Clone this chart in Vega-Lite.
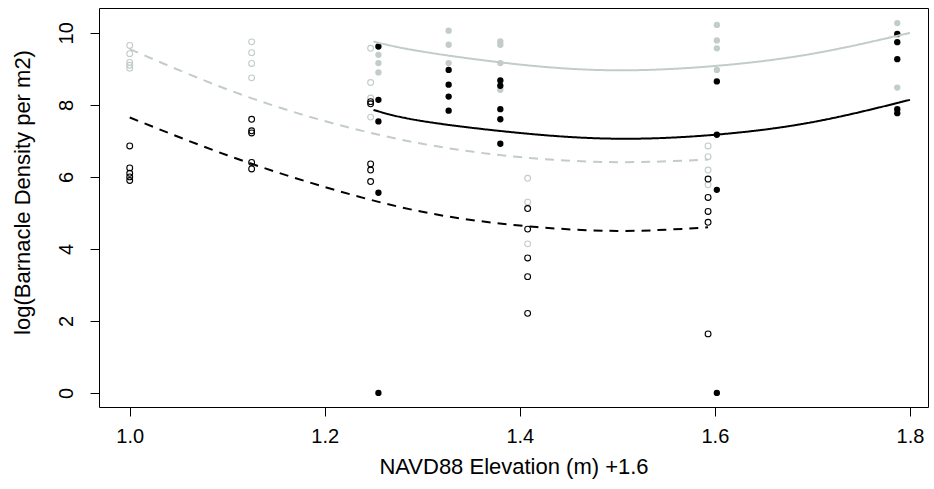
{
  "$schema": "https://vega.github.io/schema/vega-lite/v6.json",
  "width": 829,
  "height": 399,
  "autosize": {"type": "none"},
  "padding": {"left": 99, "top": 8, "right": 6, "bottom": 82},
  "background": "white",
  "config": {
    "view": {"stroke": "black", "strokeWidth": 1},
    "font": "Liberation Sans",
    "axis": {"grid": false, "domain": false, "tickColor": "black", "tickSize": 9, "labelColor": "black", "titleColor": "black", "labelFont": "Liberation Sans", "titleFont": "Liberation Sans", "labelFontSize": 20, "titleFontSize": 22, "titleFontWeight": "normal"}
  },
  "datasets": {
    "open": [
      {"x": 1.0, "y": 9.65, "g": "lightOpen"}, {"x": 1.0, "y": 9.42, "g": "lightOpen"}, {"x": 1.0, "y": 9.18, "g": "lightOpen"}, {"x": 1.0, "y": 9.1, "g": "lightOpen"}, {"x": 1.0, "y": 9.02, "g": "lightOpen"},
      {"x": 1.125, "y": 9.75, "g": "lightOpen"}, {"x": 1.125, "y": 9.45, "g": "lightOpen"}, {"x": 1.125, "y": 9.15, "g": "lightOpen"}, {"x": 1.125, "y": 8.75, "g": "lightOpen"},
      {"x": 1.247, "y": 9.57, "g": "lightOpen"}, {"x": 1.247, "y": 8.62, "g": "lightOpen"}, {"x": 1.247, "y": 8.19, "g": "lightOpen"}, {"x": 1.247, "y": 7.66, "g": "lightOpen"},
      {"x": 1.408, "y": 5.96, "g": "lightOpen"}, {"x": 1.408, "y": 5.3, "g": "lightOpen"}, {"x": 1.408, "y": 4.14, "g": "lightOpen"},
      {"x": 1.593, "y": 6.86, "g": "lightOpen"}, {"x": 1.593, "y": 6.56, "g": "lightOpen"}, {"x": 1.593, "y": 6.19, "g": "lightOpen"}, {"x": 1.593, "y": 5.78, "g": "lightOpen"},
      {"x": 1.0, "y": 6.86, "g": "blackOpen"}, {"x": 1.0, "y": 6.25, "g": "blackOpen"}, {"x": 1.0, "y": 6.1, "g": "blackOpen"}, {"x": 1.0, "y": 6.0, "g": "blackOpen"}, {"x": 1.0, "y": 5.9, "g": "blackOpen"},
      {"x": 1.125, "y": 7.6, "g": "blackOpen"}, {"x": 1.125, "y": 7.28, "g": "blackOpen"}, {"x": 1.125, "y": 7.22, "g": "blackOpen"}, {"x": 1.125, "y": 6.4, "g": "blackOpen"}, {"x": 1.125, "y": 6.22, "g": "blackOpen"},
      {"x": 1.247, "y": 8.09, "g": "blackOpen"}, {"x": 1.247, "y": 8.03, "g": "blackOpen"}, {"x": 1.247, "y": 6.36, "g": "blackOpen"}, {"x": 1.247, "y": 6.19, "g": "blackOpen"}, {"x": 1.247, "y": 5.87, "g": "blackOpen"},
      {"x": 1.408, "y": 5.12, "g": "blackOpen"}, {"x": 1.408, "y": 4.55, "g": "blackOpen"}, {"x": 1.408, "y": 3.75, "g": "blackOpen"}, {"x": 1.408, "y": 3.23, "g": "blackOpen"}, {"x": 1.408, "y": 2.21, "g": "blackOpen"},
      {"x": 1.593, "y": 5.94, "g": "blackOpen"}, {"x": 1.593, "y": 5.43, "g": "blackOpen"}, {"x": 1.593, "y": 5.04, "g": "blackOpen"}, {"x": 1.593, "y": 4.74, "g": "blackOpen"}, {"x": 1.593, "y": 1.64, "g": "blackOpen"}
    ],
    "filled": [
      {"x": 1.255, "y": 9.39, "g": "grayFill"}, {"x": 1.255, "y": 9.16, "g": "grayFill"}, {"x": 1.255, "y": 8.9, "g": "grayFill"},
      {"x": 1.327, "y": 10.06, "g": "grayFill"}, {"x": 1.327, "y": 9.67, "g": "grayFill"}, {"x": 1.327, "y": 9.16, "g": "grayFill"},
      {"x": 1.38, "y": 9.76, "g": "grayFill"}, {"x": 1.38, "y": 9.67, "g": "grayFill"}, {"x": 1.38, "y": 9.16, "g": "grayFill"}, {"x": 1.38, "y": 8.42, "g": "grayFill"},
      {"x": 1.602, "y": 10.22, "g": "grayFill"}, {"x": 1.602, "y": 9.79, "g": "grayFill"}, {"x": 1.602, "y": 9.57, "g": "grayFill"}, {"x": 1.602, "y": 8.97, "g": "grayFill"},
      {"x": 1.787, "y": 10.27, "g": "grayFill"}, {"x": 1.787, "y": 9.95, "g": "grayFill"}, {"x": 1.787, "y": 8.48, "g": "grayFill"},
      {"x": 1.255, "y": 9.62, "g": "blackFill"}, {"x": 1.255, "y": 8.14, "g": "blackFill"}, {"x": 1.255, "y": 7.54, "g": "blackFill"}, {"x": 1.255, "y": 5.56, "g": "blackFill"}, {"x": 1.255, "y": 0.0, "g": "blackFill"},
      {"x": 1.327, "y": 8.97, "g": "blackFill"}, {"x": 1.327, "y": 8.56, "g": "blackFill"}, {"x": 1.327, "y": 8.23, "g": "blackFill"}, {"x": 1.327, "y": 7.84, "g": "blackFill"},
      {"x": 1.38, "y": 8.68, "g": "blackFill"}, {"x": 1.38, "y": 8.53, "g": "blackFill"}, {"x": 1.38, "y": 7.88, "g": "blackFill"}, {"x": 1.38, "y": 7.6, "g": "blackFill"}, {"x": 1.38, "y": 6.92, "g": "blackFill"},
      {"x": 1.602, "y": 8.65, "g": "blackFill"}, {"x": 1.602, "y": 7.17, "g": "blackFill"}, {"x": 1.602, "y": 5.64, "g": "blackFill"}, {"x": 1.602, "y": 0.0, "g": "blackFill"},
      {"x": 1.787, "y": 9.97, "g": "blackFill"}, {"x": 1.787, "y": 9.74, "g": "blackFill"}, {"x": 1.787, "y": 9.27, "g": "blackFill"}, {"x": 1.787, "y": 7.88, "g": "blackFill"}, {"x": 1.787, "y": 7.77, "g": "blackFill"}
    ],
    "curves": [
      {"x": 1.0, "y": 9.55, "c": "lightDash"}, {"x": 1.1, "y": 8.43, "c": "lightDash"}, {"x": 1.2, "y": 7.55, "c": "lightDash"}, {"x": 1.3, "y": 6.92, "c": "lightDash"}, {"x": 1.4, "y": 6.55, "c": "lightDash"}, {"x": 1.5, "y": 6.41, "c": "lightDash"}, {"x": 1.593, "y": 6.48, "c": "lightDash"},
      {"x": 1.0, "y": 7.65, "c": "blackDash"}, {"x": 1.1, "y": 6.6, "c": "blackDash"}, {"x": 1.2, "y": 5.72, "c": "blackDash"}, {"x": 1.3, "y": 5.03, "c": "blackDash"}, {"x": 1.4, "y": 4.65, "c": "blackDash"}, {"x": 1.5, "y": 4.5, "c": "blackDash"}, {"x": 1.593, "y": 4.6, "c": "blackDash"},
      {"x": 1.25, "y": 9.76, "c": "graySolid"}, {"x": 1.3, "y": 9.48, "c": "graySolid"}, {"x": 1.4, "y": 9.12, "c": "graySolid"}, {"x": 1.5, "y": 8.96, "c": "graySolid"}, {"x": 1.6, "y": 9.08, "c": "graySolid"}, {"x": 1.7, "y": 9.42, "c": "graySolid"}, {"x": 1.8, "y": 10.0, "c": "graySolid"},
      {"x": 1.25, "y": 7.86, "c": "blackSolid"}, {"x": 1.3, "y": 7.55, "c": "blackSolid"}, {"x": 1.4, "y": 7.22, "c": "blackSolid"}, {"x": 1.5, "y": 7.06, "c": "blackSolid"}, {"x": 1.6, "y": 7.17, "c": "blackSolid"}, {"x": 1.7, "y": 7.52, "c": "blackSolid"}, {"x": 1.8, "y": 8.14, "c": "blackSolid"}
    ]
  },
  "encoding": {
    "x": {"field": "x", "type": "quantitative", "scale": {"domain": [0.9685, 1.8185], "nice": false, "zero": false},
      "axis": {"values": [1.0, 1.2, 1.4, 1.6, 1.8], "format": ".1f", "title": "NAVD88 Elevation (m) +1.6", "labelPadding": 10, "titlePadding": 10}},
    "y": {"field": "y", "type": "quantitative", "scale": {"domain": [-0.39, 10.69], "nice": false, "zero": false},
      "axis": {"values": [0, 2, 4, 6, 8, 10], "labelAngle": -90, "labelBaseline": "alphabetic", "labelPadding": 18, "title": "log(Barnacle Density per m2)", "titleBaseline": "alphabetic", "titleX": -70, "titleY": 184}}
  },
  "layer": [
    {
      "data": {"name": "open"},
      "mark": {"type": "point", "shape": "circle", "filled": false, "size": 34, "strokeWidth": 1.1, "opacity": 1},
      "encoding": {"color": {"field": "g", "type": "nominal", "scale": {"domain": ["lightOpen", "blackOpen"], "range": ["#c2cccb", "#000000"]}, "legend": null}}
    },
    {
      "data": {"name": "filled"},
      "mark": {"type": "point", "shape": "circle", "filled": true, "size": 40, "opacity": 1},
      "encoding": {"color": {"field": "g", "type": "nominal", "scale": {"domain": ["grayFill", "blackFill"], "range": ["#b6c6c2", "#000000"]}, "legend": null}}
    },
    {
      "data": {"name": "curves"},
      "mark": {"type": "line", "interpolate": "natural", "strokeWidth": 2},
      "encoding": {
        "detail": {"field": "c", "type": "nominal"},
        "color": {"field": "c", "type": "nominal", "scale": {"domain": ["lightDash", "blackDash", "graySolid", "blackSolid"], "range": ["#bcc8c6", "#000000", "#b6c6c2", "#000000"]}, "legend": null},
        "strokeDash": {"field": "c", "type": "nominal", "scale": {"domain": ["lightDash", "blackDash", "graySolid", "blackSolid"], "range": [[9, 7], [9, 7], [1, 0], [1, 0]]}, "legend": null}
      }
    }
  ]
}
